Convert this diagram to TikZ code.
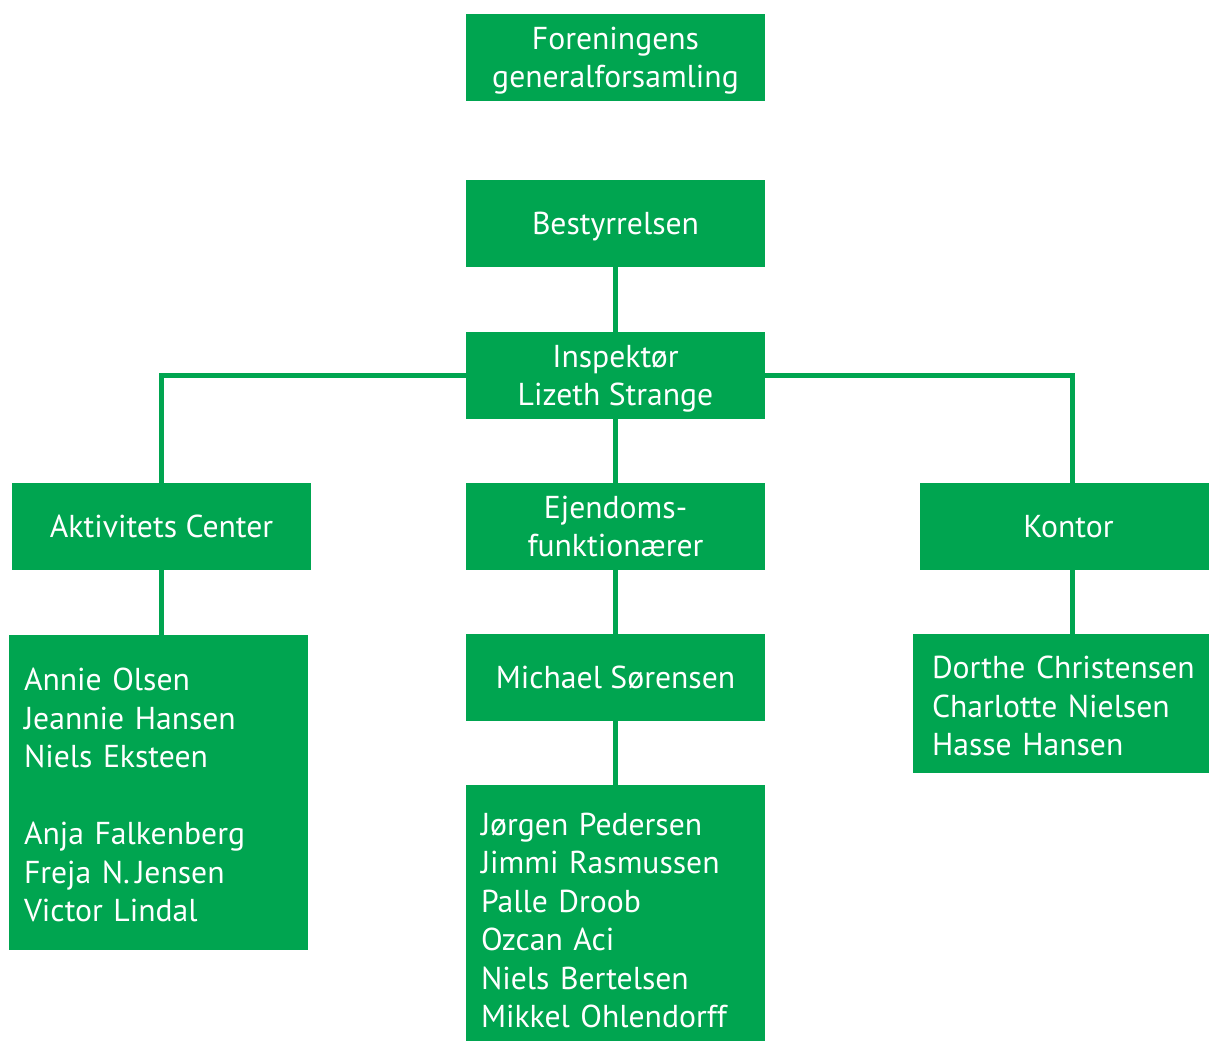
\documentclass[tikz,border=0pt]{standalone}
\usepackage{fontspec}
\setmainfont{PT Sans}
\definecolor{orggreen}{RGB}{0,165,80}
\hyphenpenalty=10000
\hbadness=10000
\hfuzz=10pt

\begin{document}
\begin{tikzpicture}[x=0.75pt, y=-0.75pt,
    box/.style={fill=orggreen, text=white, inner sep=0pt, align=center,
        minimum width=224.25pt, minimum height=65.25pt, text depth=-3pt,
        font=\fontsize{23.75}{28.9}\selectfont},
    namelist/.style={box, align=left, inner xsep=11.25pt, text depth={}},
    link/.style={orggreen, line width=3.75pt}]
        % Frame
        \useasboundingbox (0,0) rectangle (1209,1042);

        % Top level
        \node[box] (gf) at (615.5,57.5) {Foreningens\\generalforsamling};
        \node[box] (best) at (615.5,223.5) {Bestyrrelsen};
        \node[box] (insp) at (615.5,375.5) {Inspektør\\Lizeth Strange};

        % Departments
        \node[box] (akt) at (161.5,526.5) {Aktivitets Center};
        \node[box] (ejd) at (615.5,526.5) {Ejendoms-\\funktionærer};
        \node[box, minimum width=216.75pt] (kont) at (1064.5,526.5) {\hspace*{6pt}Kontor};
        \node[box] (mich) at (615.5,677.5) {Michael Sørensen};

        % Staff lists (the rule on the first line pushes the text down)
        \node[namelist, text width=201pt, minimum height=236.25pt] (aktlist) at (158,792.5)
            {\rule{0pt}{21pt}Annie Olsen\\Jeannie Hansen\\Niels Eksteen\\[28.9pt]Anja Falkenberg\\Freja N.\,Jensen\\Victor Lindal};
        \node[namelist, text width=201.75pt, minimum height=192pt] (ejdlist) at (615.5,913)
            {\rule{0pt}{28pt}Jørgen Pedersen\\Jimmi Rasmussen\\Palle Droob\\Ozcan Aci\\Niels Bertelsen\\Mikkel Ohlendorff};
        \node[namelist, inner xsep=12pt, text width=195.75pt, minimum height=104.25pt] (kontlist) at (1062.5,703.5)
            {\rule{0pt}{21pt}Dorthe~Christensen\\Charlotte Nielsen\\Hasse Hansen};

        % Connectors
        \draw[link] (best.south) -- (insp.north);
        \draw[link] (insp.west) -| (akt.north);
        \draw[link] (insp.east) -| ([xshift=6pt]kont.north);
        \draw[link] (insp.south) -- (ejd.north);
        \draw[link] (akt.south) -- (akt.south |- aktlist.north);
        \draw[link] (ejd.south) -- (mich.north);
        \draw[link] (mich.south) -- (ejdlist.north);
        \draw[link] ([xshift=6pt]kont.south) -- ([xshift=6pt]kont.south |- kontlist.north);
    \end{tikzpicture}
\end{document}
